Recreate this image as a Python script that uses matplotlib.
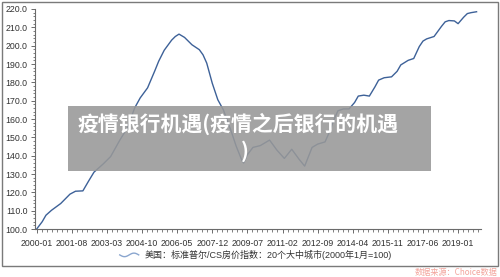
import numpy as np
import matplotlib
matplotlib.use("Agg")
import matplotlib.pyplot as plt
from matplotlib.patches import Rectangle
from matplotlib.legend_handler import HandlerBase
from matplotlib.lines import Line2D
from matplotlib.ticker import FixedLocator, FixedFormatter

plt.rcParams['font.family'] = ['Liberation Sans', 'Noto Sans CJK SC', 'DejaVu Sans']

# ---------------- data ----------------
dates = ["2000-01", "2000-04", "2000-06", "2000-09", "2001-02", "2001-07", "2001-10",
         "2002-02", "2002-05", "2002-08", "2003-01", "2003-05", "2003-10", "2004-02",
         "2004-06", "2004-09", "2005-01", "2005-05", "2005-07", "2005-10", "2006-02",
         "2006-04", "2006-06", "2006-09", "2006-11", "2007-01", "2007-05", "2007-07",
         "2007-09", "2007-12", "2008-03", "2008-06", "2008-10", "2009-01", "2009-04",
         "2009-05", "2009-07", "2009-10", "2010-02", "2010-07", "2010-11", "2011-03",
         "2011-07", "2011-11", "2012-02", "2012-06", "2012-09", "2013-01", "2013-03",
         "2013-06", "2013-08", "2013-11", "2014-02", "2014-05", "2014-07", "2014-10",
         "2015-01", "2015-04", "2015-06", "2015-09", "2016-01", "2016-04", "2016-06",
         "2016-10", "2017-01", "2017-04", "2017-06", "2017-08", "2017-12", "2018-04",
         "2018-06", "2018-08", "2018-11", "2019-01", "2019-04", "2019-06", "2019-08",
         "2019-11"]
values = [100.0, 104.0, 107.5, 110.2, 113.9, 119.0, 120.6,
          120.8, 126.0, 131.0, 135.5, 139.5, 148.5, 155.0,
          166.0, 171.5, 177.0, 186.5, 191.5, 197.5, 203.0,
          205.0, 206.3, 204.5, 202.5, 200.5, 197.8, 195.0,
          190.5, 179.5, 170.5, 165.0, 154.0, 145.0, 137.5,
          136.0, 140.5, 144.5, 145.5, 148.5, 143.0, 138.5,
          143.5, 138.0, 134.3, 144.5, 146.3, 147.5, 152.0,
          160.0, 164.5, 165.5, 165.5, 169.0, 172.5, 173.0,
          172.5, 177.5, 181.2, 182.5, 183.0, 186.0, 189.5,
          192.0, 193.0, 199.5, 202.5, 203.7, 205.0, 210.5,
          213.0, 213.7, 213.5, 212.0, 215.5, 217.5, 218.0,
          218.5]
tick_labels = ["2000-01", "2001-08", "2003-03", "2004-10", "2006-05", "2007-12",
               "2009-07", "2011-02", "2012-09", "2014-04", "2015-11", "2017-06",
               "2019-01"]
y_ticks = [100, 110, 120, 130, 140, 150, 160, 170, 180, 190, 200, 210, 220]
legend_label = "美国：标准普尔/CS房价指数：20个大中城市(2000年1月=100)"
title_line1 = "疫情银行机遇(疫情之后银行的机遇"
title_line2 = ")"
source_text = "数据来源：Choice数据"


def month_index(s):
    yy, mm = s.split("-")
    return (int(yy) - 2000) * 12 + int(mm) - 1


x = np.array([month_index(d) for d in dates])
y = np.array(values)
xt = [month_index(t) for t in tick_labels]

W, H = 500, 277
fig = plt.figure(figsize=(W / 100, H / 100), dpi=100)
fig.patch.set_facecolor('white')

ax = fig.add_axes([35.3 / W, (H - 229) / H, (481 - 35.3) / W, (229 - 9) / H])
ax.plot(x, y, color='#3d6198', lw=1.0, solid_joinstyle='round')
ax.set_xlim(-0.75, 240.4)
ax.set_ylim(100, 220)

for s in ['top', 'right']:
    ax.spines[s].set_visible(False)
for s in ['left', 'bottom']:
    ax.spines[s].set_color('#6b6b6b')
    ax.spines[s].set_linewidth(0.8)

ax.xaxis.set_major_locator(FixedLocator(xt))
ax.xaxis.set_major_formatter(FixedFormatter(tick_labels))
ax.xaxis.set_minor_locator(FixedLocator(np.arange(0, 240.5, 19 / 7)))
ax.yaxis.set_major_locator(FixedLocator(y_ticks))
ax.set_yticklabels([f"{v:.1f}" for v in y_ticks])
ax.yaxis.set_minor_locator(FixedLocator(np.arange(100, 220.1, 2)))

ax.tick_params(axis='both', which='major', length=3, width=0.7, color='#6b6b6b',
               labelsize=6.3, labelcolor='#333333', pad=2.5)
ax.tick_params(axis='both', which='minor', length=1.8, width=0.6, color='#6b6b6b')
ax.tick_params(axis='x', which='major', pad=4)


class WaveHandler(HandlerBase):
    def create_artists(self, legend, orig_handle, xdescent, ydescent, width,
                       height, fontsize, trans):
        t = np.linspace(0, 1, 40)
        xx = -xdescent + t * width
        yy = -ydescent + height / 2 + height * 0.28 * np.sin(2 * np.pi * t + np.pi)
        ln = Line2D(xx, yy, color='#8aa6cf', lw=1.0, transform=trans)
        return [ln]


h = Line2D([0], [0], color='#8aa6cf')
fig.legend([h], [legend_label], loc='center', bbox_to_anchor=(0.512, (H - 255) / H),
           frameon=False, fontsize=6.5, handlelength=2.1, handletextpad=0.7,
           handler_map={Line2D: WaveHandler()}, labelcolor='#333333')

# outer frame
fig.patches.append(Rectangle((1.5 / W, (H - 266) / H), 496 / W, 264.5 / H,
                             transform=fig.transFigure, fill=False,
                             ec='#7a7a7a', lw=1.0, zorder=2))

# source
fig.text(497 / W, (H - 272) / H, source_text, ha='right', va='center',
         fontsize=5.9, color='#f3a49c', family=['Noto Sans CJK SC', 'DejaVu Sans'])

# overlay title box
fig.patches.append(Rectangle((68 / W, (H - 171) / H), (431 - 68) / W, 65 / H,
                             transform=fig.transFigure, fc='#989898', ec='none',
                             alpha=0.88, zorder=5))
fig.text(78 / W, (H - 123.5) / H, title_line1, ha='left', va='center',
         fontsize=15, fontweight='bold', color='white', zorder=6,
         family=['Noto Sans CJK SC', 'DejaVu Sans'])
fig.text(245 / W, (H - 151.5) / H, title_line2, ha='center', va='center',
         fontsize=15, fontweight='bold', color='white', zorder=6,
         family=['Noto Sans CJK SC', 'DejaVu Sans'])

fig.savefig('out.png', dpi=100, facecolor='white')
